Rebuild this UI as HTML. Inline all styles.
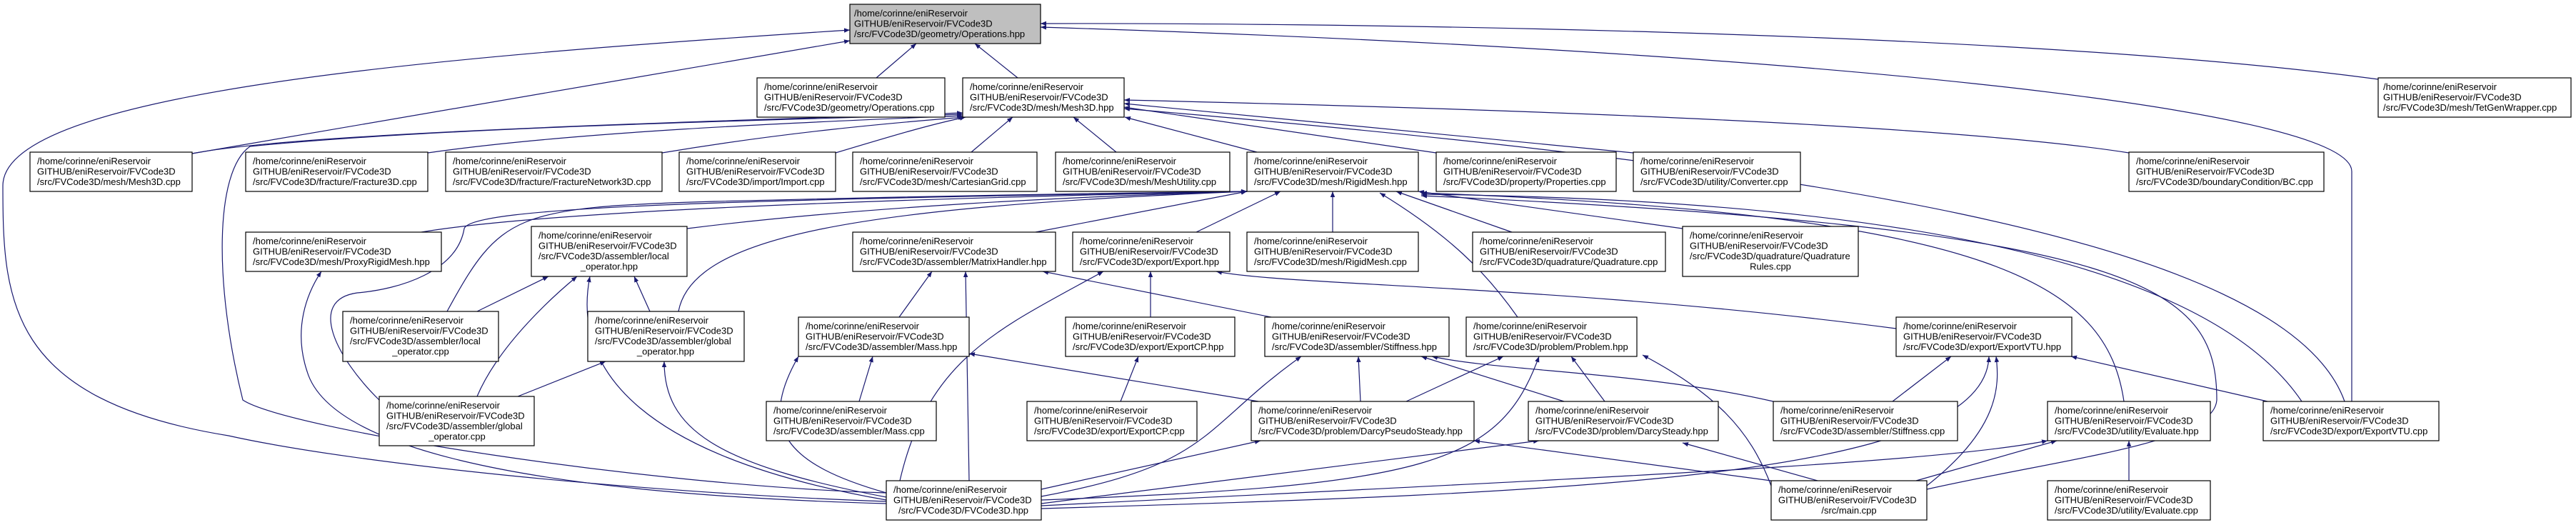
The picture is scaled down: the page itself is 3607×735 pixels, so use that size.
<!DOCTYPE html>
<html><head><meta charset="utf-8"><style>
html,body{margin:0;padding:0;background:#fff;}
svg{display:block}
text{font-family:"Liberation Sans",sans-serif;font-size:13px;fill:#000}
.b{fill:#fff;stroke:#000;stroke-width:1.2}
.e{fill:none;stroke:#191970;stroke-width:1.2}
</style></head><body>
<svg width="3607" height="735" viewBox="0 0 3607 735" xmlns="http://www.w3.org/2000/svg">
<defs><marker id="a" viewBox="0 0 10 10" refX="10" refY="5" markerWidth="8" markerHeight="8" orient="auto" markerUnits="userSpaceOnUse"><path d="M0,1 L10,5 L0,9 z" fill="#191970"/></marker></defs>
<g class="e" marker-end="url(#a)">
<!-- to Operations.hpp -->
<path d="M1227,109 L1283,61"/>
<path d="M1425,109 L1365,61"/>
<path d="M3330,111 C2800,40 1800,32 1457,33"/>
<path d="M269,215 L1190,57"/>
<path d="M1241,702 C900,690 500,650 320,610 C10,560 4,420 4,260 C4,130 600,80 1190,42"/>
<path d="M3293,562 L3293,240 C3293,150 2500,70 1457,38"/>
<!-- to Mesh3D.hpp -->
<path d="M269,215 C420,185 1000,170 1348,158"/>
<path d="M599,214 C800,185 1100,172 1348,162"/>
<path d="M927,214 C1100,185 1250,172 1350,164"/>
<path d="M1170,214 C1250,190 1300,175 1352,164"/>
<path d="M1360,213 L1418,164"/>
<path d="M1563,213 L1503,164"/>
<path d="M1760,213 L1575,164"/>
<path d="M2011,214 L1574,150"/>
<path d="M2287,214 L1574,145"/>
<path d="M2981,214 C2700,170 2000,150 1574,140"/>
<path d="M3283,562 C3200,330 2500,230 1574,152"/>
<path d="M1241,690 C900,680 400,600 340,560 C300,400 300,240 350,205 C600,180 1000,170 1348,160"/>
<!-- to RigidMesh.hpp -->
<path d="M590,325 C800,290 1400,275 1746,268"/>
<path d="M962,320 C1200,290 1500,275 1746,268"/>
<path d="M1450,325 L1746,268"/>
<path d="M1675,325 L1793,268"/>
<path d="M1866,325 L1866,268"/>
<path d="M2117,325 L1955,268"/>
<path d="M2356,320 L1986,268"/>
<path d="M2125,444 C2080,380 2030,330 1932,270"/>
<path d="M2974,562 C2950,400 2800,300 1990,270"/>
<path d="M3223,562 C3100,380 2700,280 1990,272"/>
<path d="M2698,685 C2900,640 3100,620 3104,560 C3104,400 3000,320 1990,274"/>
<path d="M626,436 C700,300 720,290 1000,282 C1400,272 1600,270 1746,268"/>
<path d="M531,560 C470,500 430,420 500,410 C560,405 640,380 650,320 C660,290 1000,280 1746,268"/>
<path d="M950,436 C970,330 1200,290 1746,268"/>
<!-- local_operator.hpp -->
<path d="M668,436 L768,387"/>
<path d="M668,555 C700,480 780,410 808,387"/>
<path d="M910,436 L888,387"/>
<path d="M1241,700 C900,640 800,520 826,387"/>
<!-- global_operator.hpp -->
<path d="M725,555 L848,506"/>
<path d="M1241,696 C1000,650 930,600 930,506"/>
<!-- ProxyRigidMesh -->
<path d="M1241,705 C700,690 460,620 430,520 C410,460 430,410 450,380"/>
<!-- MatrixHandler -->
<path d="M1259,444 L1305,380"/>
<path d="M1780,444 L1460,380"/>
<path d="M1357,673 L1352,380"/>
<!-- Export.hpp -->
<path d="M1611,444 L1611,380"/>
<path d="M2655,460 C2200,400 1800,400 1703,380"/>
<path d="M1260,673 C1300,500 1400,460 1545,380"/>
<!-- Mass.hpp -->
<path d="M1203,562 L1222,499"/>
<path d="M1762,562 L1357,495"/>
<path d="M1241,690 C1100,650 1060,600 1118,499"/>
<!-- ExportCP.hpp -->
<path d="M1569,562 L1594,499"/>
<!-- Stiffness.hpp -->
<path d="M1905,562 L1902,499"/>
<path d="M2190,562 L1990,499"/>
<path d="M1458,695 C1700,650 1680,600 1822,499"/>
<path d="M2483,562 C2300,520 2100,520 2005,499"/>
<!-- Problem.hpp -->
<path d="M1969,562 L2105,499"/>
<path d="M2247,562 L2200,499"/>
<path d="M1458,700 C2000,680 2100,650 2155,499"/>
<path d="M2480,680 C2450,600 2400,550 2300,497"/>
<!-- ExportVTU.hpp -->
<path d="M2650,562 L2732,499"/>
<path d="M1458,712 C2200,690 2780,670 2785,499"/>
<path d="M3175,562 L2900,499"/>
<path d="M2698,680 C2800,600 2800,540 2795,499"/>
<!-- DarcyPseudoSteady / DarcySteady -->
<path d="M1458,685 L1765,617"/>
<path d="M2480,673 L2064,617"/>
<path d="M1458,705 L2155,617"/>
<path d="M2545,673 L2356,620"/>
<!-- Evaluate.hpp -->
<path d="M1458,708 C2200,670 2700,650 2867,617"/>
<path d="M2683,673 L2880,617"/>
<path d="M2981,673 L2981,617"/>
</g>
<!-- Boxes -->
<g>
<rect x="1190" y="6" width="267" height="55" fill="#bfbfbf" stroke="#000" stroke-width="1.2"/>
<text x="1196" y="23">/home/corinne/eniReservoir</text><text x="1196" y="37.5">GITHUB/eniReservoir/FVCode3D</text><text x="1196" y="52">/src/FVCode3D/geometry/Operations.hpp</text>

<rect class="b" x="3330" y="109" width="270" height="55"/>
<text x="3337" y="126">/home/corinne/eniReservoir</text><text x="3337" y="140.5">GITHUB/eniReservoir/FVCode3D</text><text x="3337" y="155">/src/FVCode3D/mesh/TetGenWrapper.cpp</text>

<rect class="b" x="1060" y="109" width="263" height="55"/>
<text x="1070" y="126">/home/corinne/eniReservoir</text><text x="1070" y="140.5">GITHUB/eniReservoir/FVCode3D</text><text x="1070" y="155">/src/FVCode3D/geometry/Operations.cpp</text>

<rect class="b" x="1348" y="109" width="226" height="55"/>
<text x="1358" y="126">/home/corinne/eniReservoir</text><text x="1358" y="140.5">GITHUB/eniReservoir/FVCode3D</text><text x="1358" y="155">/src/FVCode3D/mesh/Mesh3D.hpp</text>

<rect class="b" x="42" y="213" width="227" height="55"/>
<text x="52" y="230">/home/corinne/eniReservoir</text><text x="52" y="244.5">GITHUB/eniReservoir/FVCode3D</text><text x="52" y="259">/src/FVCode3D/mesh/Mesh3D.cpp</text>

<rect class="b" x="344" y="213" width="255" height="55"/>
<text x="354" y="230">/home/corinne/eniReservoir</text><text x="354" y="244.5">GITHUB/eniReservoir/FVCode3D</text><text x="354" y="259">/src/FVCode3D/fracture/Fracture3D.cpp</text>

<rect class="b" x="624" y="213" width="303" height="55"/>
<text x="634" y="230">/home/corinne/eniReservoir</text><text x="634" y="244.5">GITHUB/eniReservoir/FVCode3D</text><text x="634" y="259">/src/FVCode3D/fracture/FractureNetwork3D.cpp</text>

<rect class="b" x="951" y="213" width="219" height="55"/>
<text x="961" y="230">/home/corinne/eniReservoir</text><text x="961" y="244.5">GITHUB/eniReservoir/FVCode3D</text><text x="961" y="259">/src/FVCode3D/import/Import.cpp</text>

<rect class="b" x="1194" y="213" width="258" height="55"/>
<text x="1204" y="230">/home/corinne/eniReservoir</text><text x="1204" y="244.5">GITHUB/eniReservoir/FVCode3D</text><text x="1204" y="259">/src/FVCode3D/mesh/CartesianGrid.cpp</text>

<rect class="b" x="1478" y="213" width="244" height="55"/>
<text x="1488" y="230">/home/corinne/eniReservoir</text><text x="1488" y="244.5">GITHUB/eniReservoir/FVCode3D</text><text x="1488" y="259">/src/FVCode3D/mesh/MeshUtility.cpp</text>

<rect class="b" x="1746" y="213" width="240" height="55"/>
<text x="1756" y="230">/home/corinne/eniReservoir</text><text x="1756" y="244.5">GITHUB/eniReservoir/FVCode3D</text><text x="1756" y="259">/src/FVCode3D/mesh/RigidMesh.hpp</text>

<rect class="b" x="2011" y="213" width="252" height="55"/>
<text x="2021" y="230">/home/corinne/eniReservoir</text><text x="2021" y="244.5">GITHUB/eniReservoir/FVCode3D</text><text x="2021" y="259">/src/FVCode3D/property/Properties.cpp</text>

<rect class="b" x="2287" y="213" width="234" height="55"/>
<text x="2297" y="230">/home/corinne/eniReservoir</text><text x="2297" y="244.5">GITHUB/eniReservoir/FVCode3D</text><text x="2297" y="259">/src/FVCode3D/utility/Converter.cpp</text>

<rect class="b" x="2981" y="213" width="273" height="55"/>
<text x="2991" y="230">/home/corinne/eniReservoir</text><text x="2991" y="244.5">GITHUB/eniReservoir/FVCode3D</text><text x="2991" y="259">/src/FVCode3D/boundaryCondition/BC.cpp</text>

<rect class="b" x="344" y="325" width="274" height="55"/>
<text x="354" y="342">/home/corinne/eniReservoir</text><text x="354" y="356.5">GITHUB/eniReservoir/FVCode3D</text><text x="354" y="371">/src/FVCode3D/mesh/ProxyRigidMesh.hpp</text>

<rect class="b" x="744" y="317" width="218" height="70"/>
<text x="754" y="334">/home/corinne/eniReservoir</text><text x="754" y="348.5">GITHUB/eniReservoir/FVCode3D</text><text x="754" y="363">/src/FVCode3D/assembler/local</text><text x="853" y="377.5" text-anchor="middle">_operator.hpp</text>

<rect class="b" x="1194" y="325" width="284" height="55"/>
<text x="1204" y="342">/home/corinne/eniReservoir</text><text x="1204" y="356.5">GITHUB/eniReservoir/FVCode3D</text><text x="1204" y="371">/src/FVCode3D/assembler/MatrixHandler.hpp</text>

<rect class="b" x="1502" y="325" width="220" height="55"/>
<text x="1512" y="342">/home/corinne/eniReservoir</text><text x="1512" y="356.5">GITHUB/eniReservoir/FVCode3D</text><text x="1512" y="371">/src/FVCode3D/export/Export.hpp</text>

<rect class="b" x="1746" y="325" width="240" height="55"/>
<text x="1756" y="342">/home/corinne/eniReservoir</text><text x="1756" y="356.5">GITHUB/eniReservoir/FVCode3D</text><text x="1756" y="371">/src/FVCode3D/mesh/RigidMesh.cpp</text>

<rect class="b" x="2062" y="325" width="270" height="55"/>
<text x="2072" y="342">/home/corinne/eniReservoir</text><text x="2072" y="356.5">GITHUB/eniReservoir/FVCode3D</text><text x="2072" y="371">/src/FVCode3D/quadrature/Quadrature.cpp</text>

<rect class="b" x="2356" y="317" width="246" height="70"/>
<text x="2366" y="334">/home/corinne/eniReservoir</text><text x="2366" y="348.5">GITHUB/eniReservoir/FVCode3D</text><text x="2366" y="363">/src/FVCode3D/quadrature/Quadrature</text><text x="2479" y="377.5" text-anchor="middle">Rules.cpp</text>

<rect class="b" x="480" y="436" width="218" height="70"/>
<text x="490" y="453">/home/corinne/eniReservoir</text><text x="490" y="467.5">GITHUB/eniReservoir/FVCode3D</text><text x="490" y="482">/src/FVCode3D/assembler/local</text><text x="589" y="496.5" text-anchor="middle">_operator.cpp</text>

<rect class="b" x="823" y="436" width="219" height="70"/>
<text x="833" y="453">/home/corinne/eniReservoir</text><text x="833" y="467.5">GITHUB/eniReservoir/FVCode3D</text><text x="833" y="482">/src/FVCode3D/assembler/global</text><text x="932" y="496.5" text-anchor="middle">_operator.hpp</text>

<rect class="b" x="1118" y="444" width="239" height="55"/>
<text x="1128" y="461">/home/corinne/eniReservoir</text><text x="1128" y="475.5">GITHUB/eniReservoir/FVCode3D</text><text x="1128" y="490">/src/FVCode3D/assembler/Mass.hpp</text>

<rect class="b" x="1492" y="444" width="237" height="55"/>
<text x="1502" y="461">/home/corinne/eniReservoir</text><text x="1502" y="475.5">GITHUB/eniReservoir/FVCode3D</text><text x="1502" y="490">/src/FVCode3D/export/ExportCP.hpp</text>

<rect class="b" x="1771" y="444" width="258" height="55"/>
<text x="1781" y="461">/home/corinne/eniReservoir</text><text x="1781" y="475.5">GITHUB/eniReservoir/FVCode3D</text><text x="1781" y="490">/src/FVCode3D/assembler/Stiffness.hpp</text>

<rect class="b" x="2053" y="444" width="239" height="55"/>
<text x="2063" y="461">/home/corinne/eniReservoir</text><text x="2063" y="475.5">GITHUB/eniReservoir/FVCode3D</text><text x="2063" y="490">/src/FVCode3D/problem/Problem.hpp</text>

<rect class="b" x="2655" y="444" width="246" height="55"/>
<text x="2665" y="461">/home/corinne/eniReservoir</text><text x="2665" y="475.5">GITHUB/eniReservoir/FVCode3D</text><text x="2665" y="490">/src/FVCode3D/export/ExportVTU.hpp</text>

<rect class="b" x="531" y="555" width="217" height="69"/>
<text x="541" y="572">/home/corinne/eniReservoir</text><text x="541" y="586.5">GITHUB/eniReservoir/FVCode3D</text><text x="541" y="601">/src/FVCode3D/assembler/global</text><text x="640" y="615.5" text-anchor="middle">_operator.cpp</text>

<rect class="b" x="1073" y="562" width="238" height="55"/>
<text x="1083" y="579">/home/corinne/eniReservoir</text><text x="1083" y="593.5">GITHUB/eniReservoir/FVCode3D</text><text x="1083" y="608">/src/FVCode3D/assembler/Mass.cpp</text>

<rect class="b" x="1438" y="562" width="238" height="55"/>
<text x="1448" y="579">/home/corinne/eniReservoir</text><text x="1448" y="593.5">GITHUB/eniReservoir/FVCode3D</text><text x="1448" y="608">/src/FVCode3D/export/ExportCP.cpp</text>

<rect class="b" x="1752" y="562" width="312" height="55"/>
<text x="1762" y="579">/home/corinne/eniReservoir</text><text x="1762" y="593.5">GITHUB/eniReservoir/FVCode3D</text><text x="1762" y="608">/src/FVCode3D/problem/DarcyPseudoSteady.hpp</text>

<rect class="b" x="2140" y="562" width="266" height="55"/>
<text x="2150" y="579">/home/corinne/eniReservoir</text><text x="2150" y="593.5">GITHUB/eniReservoir/FVCode3D</text><text x="2150" y="608">/src/FVCode3D/problem/DarcySteady.hpp</text>

<rect class="b" x="2483" y="562" width="258" height="55"/>
<text x="2493" y="579">/home/corinne/eniReservoir</text><text x="2493" y="593.5">GITHUB/eniReservoir/FVCode3D</text><text x="2493" y="608">/src/FVCode3D/assembler/Stiffness.cpp</text>

<rect class="b" x="2867" y="562" width="228" height="55"/>
<text x="2877" y="579">/home/corinne/eniReservoir</text><text x="2877" y="593.5">GITHUB/eniReservoir/FVCode3D</text><text x="2877" y="608">/src/FVCode3D/utility/Evaluate.hpp</text>

<rect class="b" x="3169" y="562" width="246" height="55"/>
<text x="3179" y="579">/home/corinne/eniReservoir</text><text x="3179" y="593.5">GITHUB/eniReservoir/FVCode3D</text><text x="3179" y="608">/src/FVCode3D/export/ExportVTU.cpp</text>

<rect class="b" x="1241" y="673" width="217" height="55"/>
<text x="1251" y="690">/home/corinne/eniReservoir</text><text x="1251" y="704.5">GITHUB/eniReservoir/FVCode3D</text><text x="1349" y="719" text-anchor="middle">/src/FVCode3D/FVCode3D.hpp</text>

<rect class="b" x="2480" y="673" width="218" height="55"/>
<text x="2490" y="690">/home/corinne/eniReservoir</text><text x="2490" y="704.5">GITHUB/eniReservoir/FVCode3D</text><text x="2589" y="719" text-anchor="middle">/src/main.cpp</text>

<rect class="b" x="2867" y="673" width="228" height="55"/>
<text x="2877" y="690">/home/corinne/eniReservoir</text><text x="2877" y="704.5">GITHUB/eniReservoir/FVCode3D</text><text x="2877" y="719">/src/FVCode3D/utility/Evaluate.cpp</text>
</g>
</svg>
</body></html>
